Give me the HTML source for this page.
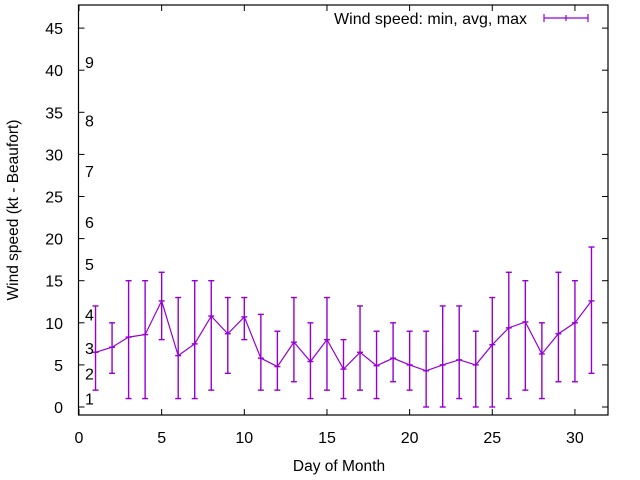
<!DOCTYPE html>
<html><head><meta charset="utf-8"><style>
body{margin:0;background:#fff}
svg{display:block;font-family:"Liberation Sans",sans-serif}
</style></head><body>
<svg id="c" width="640" height="480" xmlns="http://www.w3.org/2000/svg">
<rect width="640" height="480" fill="#fff"/>
<g id="axes"></g>
<g id="series"></g>
<text x="339" y="471" font-size="15.5" text-anchor="middle">Day of Month</text>
<text transform="translate(18,210) rotate(-90)" font-size="15.5" text-anchor="middle">Wind speed (kt - Beaufort)</text>
<g>
<text x="527" y="24" font-size="16" text-anchor="end">Wind speed: min, avg, max</text>
<line x1="544" y1="18" x2="588" y2="18" stroke="#9400d3" stroke-width="1.2"/>
<line x1="544" y1="14" x2="544" y2="22" stroke="#9400d3" stroke-width="1.2"/>
<line x1="588" y1="14" x2="588" y2="22" stroke="#9400d3" stroke-width="1.2"/>
<line x1="566" y1="15" x2="566" y2="21" stroke="#9400d3" stroke-width="1.2"/>
</g>
</svg>
<script>
const days=[1,2,3,4,5,6,7,8,9,10,11,12,13,14,15,16,17,18,19,20,21,22,23,24,25,26,27,28,29,30,31];
const avgVals=[6.5,7.1,8.3,8.6,12.6,6.1,7.5,10.8,8.7,10.7,5.8,4.8,7.7,5.4,8.0,4.5,6.5,4.9,5.8,5.0,4.3,5.0,5.6,5.0,7.4,9.4,10.1,6.3,8.7,10.0,12.6];
const minVals=[2,4,1,1,8,1,1,2,4,8,2,2,3,1,2,1,2,1,3,2,0,0,1,0,0,1,2,1,3,3,4];
const maxVals=[12,10,15,15,16,13,15,15,13,13,11,9,13,10,13,8,12,9,10,9,9,12,12,9,13,16,15,10,16,15,19];
const xTicks=[0,5,10,15,20,25,30];
const yTicks=[0,5,10,15,20,25,30,35,40,45];
const beaufortLabels=["1","2","3","4","5","6","7","8","9"];
const beaufortSpeeds=[1,4,7,11,17,22,28,34,41];
const L=78.5,R=608,T=5,B=415;
const X=v=>79+v*(608-79)/32;
const Y=v=>407-v*8.42;
const NS="http://www.w3.org/2000/svg";
function mk(tag,attrs,parent){const e=document.createElementNS(NS,tag);for(const k in attrs)e.setAttribute(k,attrs[k]);parent.appendChild(e);return e;}
const ax=document.getElementById('axes'), se=document.getElementById('series');
const frame=mk('rect',{x:L,y:T,width:R-L,height:B-T,fill:'none',stroke:'#000','stroke-width':1.2},ax);


xTicks.forEach(t=>{const x=X(t);
mk('line',{x1:x,y1:B,x2:x,y2:B-6,stroke:'#000'},ax);
mk('line',{x1:x,y1:T,x2:x,y2:T+6,stroke:'#000'},ax);
const tx=mk('text',{x:x,y:443,'font-size':16,'text-anchor':'middle'},ax);tx.textContent=t;

});
yTicks.forEach(t=>{const y=Y(t);
mk('line',{x1:L,y1:y,x2:L+6,y2:y,stroke:'#000'},ax);
mk('line',{x1:R,y1:y,x2:R-6,y2:y,stroke:'#000'},ax);
const tx=mk('text',{x:63,y:y+6,'font-size':16,'text-anchor':'end'},ax);tx.textContent=t;

});
beaufortLabels.forEach((b,i)=>{const tx=mk('text',{x:85,y:Y(beaufortSpeeds[i])+6,'font-size':16},ax);tx.textContent=b;

});
let pts=days.map((d,i)=>X(d)+','+Y(avgVals[i])).join(' ');
const pl=mk('polyline',{points:pts,fill:'none',stroke:'#9400d3','stroke-width':1.2},se);


days.forEach((d,i)=>{const x=X(d),g=mk('g',{stroke:'#9400d3','stroke-width':1.4},se);


mk('line',{x1:x,y1:Y(minVals[i]),x2:x,y2:Y(maxVals[i])},g);
mk('line',{x1:x-3,y1:Y(minVals[i]),x2:x+3,y2:Y(minVals[i])},g);
mk('line',{x1:x-3,y1:Y(maxVals[i]),x2:x+3,y2:Y(maxVals[i])},g);
mk('line',{x1:x-3,y1:Y(avgVals[i]),x2:x+3,y2:Y(avgVals[i])},g);});
</script>
</body></html>
